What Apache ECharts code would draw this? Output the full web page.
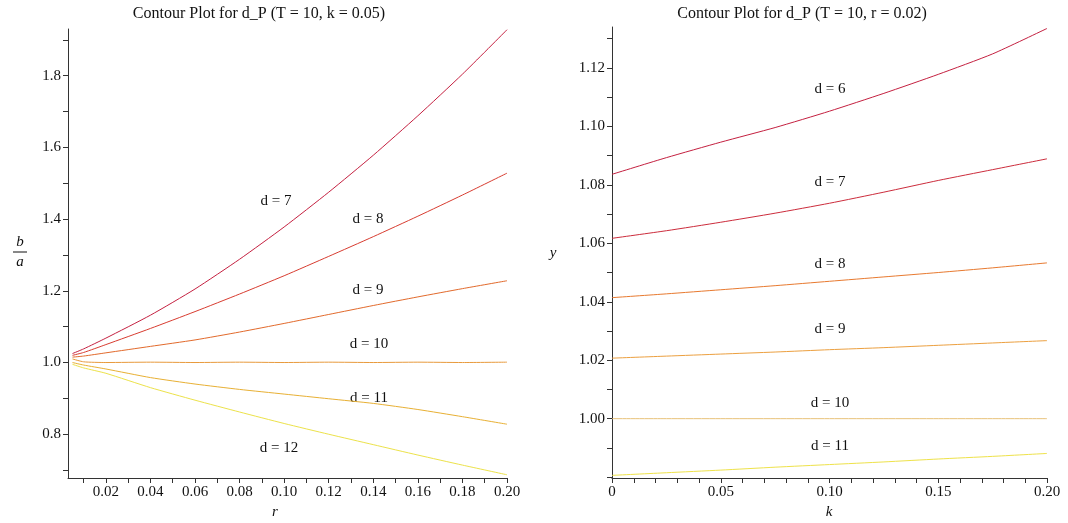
<!DOCTYPE html>
<html><head><meta charset="utf-8">
<script src="https://cdn.jsdelivr.net/npm/echarts@6/dist/echarts.min.js"></script>
<style>html,body{margin:0;padding:0;background:#fff}#c{width:1068px;height:523px}</style>
</head><body><div id="c"></div>
<script>
// ---------- data ----------
const leftTitle = 'Contour Plot for d_P (T = 10, k = 0.05)';
const rightTitle = 'Contour Plot for d_P (T = 10, r = 0.02)';

const rValues = [0.005, 0.01, 0.02, 0.04, 0.06, 0.08, 0.10, 0.12, 0.14, 0.16, 0.18, 0.20];
const leftD7  = [1.025, 1.038, 1.068, 1.132, 1.205, 1.288, 1.378, 1.475, 1.578, 1.688, 1.804, 1.928];
const leftD8  = [1.020, 1.028, 1.050, 1.095, 1.142, 1.191, 1.242, 1.296, 1.351, 1.408, 1.467, 1.528];
const leftD9  = [1.015, 1.018, 1.027, 1.045, 1.063, 1.085, 1.109, 1.134, 1.159, 1.183, 1.206, 1.228];
const leftD10 = [1.010, 1.002, 1.000, 1.001, 1.000, 1.001, 1.000, 1.001, 1.000, 1.001, 1.000, 1.001];
const leftD11 = [1.000, 0.993, 0.982, 0.958, 0.940, 0.925, 0.912, 0.899, 0.886, 0.869, 0.849, 0.828];
const leftD12 = [0.995, 0.985, 0.970, 0.930, 0.895, 0.862, 0.830, 0.800, 0.771, 0.742, 0.714, 0.687];

const kValues = [0, 0.025, 0.05, 0.075, 0.10, 0.125, 0.15, 0.175, 0.20];
const rightD6  = [1.0836, 1.0893, 1.0946, 1.0996, 1.1052, 1.1113, 1.1178, 1.1248, 1.1335];
const rightD7  = [1.0617, 1.0643, 1.0672, 1.0703, 1.0737, 1.0775, 1.0815, 1.0852, 1.0889];
const rightD8  = [1.0414, 1.0427, 1.0441, 1.0455, 1.0470, 1.0485, 1.0500, 1.0516, 1.0533];
const rightD9  = [1.0207, 1.0214, 1.0221, 1.0228, 1.0236, 1.0243, 1.0251, 1.0259, 1.0267];
const rightD10 = [1.0000, 1.0000, 1.0000, 1.0000, 1.0000, 1.0000, 1.0000, 1.0000, 1.0000];
const rightD11 = [0.9806, 0.9815, 0.9824, 0.9834, 0.9843, 0.9852, 0.9862, 0.9871, 0.9881];

// tick labels / tick positions
const leftXLabels  = [0.02, 0.04, 0.06, 0.08, 0.10, 0.12, 0.14, 0.16, 0.18, 0.20];
const leftXTicks   = [0.01, 0.02, 0.03, 0.04, 0.05, 0.06, 0.07, 0.08, 0.09, 0.10, 0.11, 0.12, 0.13, 0.14, 0.15, 0.16, 0.17, 0.18, 0.19, 0.20];
const leftYLabels  = [0.8, 1.0, 1.2, 1.4, 1.6, 1.8];
const leftYTicks   = [0.7, 0.8, 0.9, 1.0, 1.1, 1.2, 1.3, 1.4, 1.5, 1.6, 1.7, 1.8, 1.9];
const rightXLabels = [0, 0.05, 0.10, 0.15, 0.20];
const rightXTicks  = [0, 0.01, 0.02, 0.03, 0.04, 0.05, 0.06, 0.07, 0.08, 0.09, 0.10, 0.11, 0.12, 0.13, 0.14, 0.15, 0.16, 0.17, 0.18, 0.19, 0.20];
const rightYLabels = [1.00, 1.02, 1.04, 1.06, 1.08, 1.10, 1.12];
const rightYTicks  = [0.98, 0.99, 1.00, 1.01, 1.02, 1.03, 1.04, 1.05, 1.06, 1.07, 1.08, 1.09, 1.10, 1.11, 1.12, 1.13];

const leftNames  = ['d = 7', 'd = 8', 'd = 9', 'd = 10', 'd = 11', 'd = 12'];
const rightNames = ['d = 6', 'd = 7', 'd = 8', 'd = 9', 'd = 10', 'd = 11'];

// ---------- chart ----------
const FONT = '"Liberation Serif", "DejaVu Serif", serif';
const leftColors  = ['#c42040', '#d83c30', '#e26a2c', '#e89a3c', '#e8b034', '#ece24a'];
const rightColors = ['#c42040', '#cc2c3c', '#e87a30', '#eca040', '#e8c27a', '#eee24a'];
const leftSeriesVals  = [leftD7, leftD8, leftD9, leftD10, leftD11, leftD12];
const rightSeriesVals = [rightD6, rightD7, rightD8, rightD9, rightD10, rightD11];

function pairs(xs, ys) { return xs.map((x, i) => [x, ys[i]]); }

const axisLineStyle = { color: '#333', width: 1 };
function mkAxis(gridIndex, min, max, labels, ticks, fmt) {
  return {
    type: 'value', gridIndex, min, max,
    axisLine: { show: true, onZero: false, lineStyle: axisLineStyle },
    axisTick: { show: true, inside: false, length: 5, customValues: ticks, lineStyle: axisLineStyle },
    axisLabel: { show: true, customValues: labels, formatter: fmt, color: '#111', fontFamily: FONT, fontSize: 15, margin: 7 },
    splitLine: { show: false }
  };
}
const fmt2 = v => (Math.abs(v) < 1e-9 ? '0' : v.toFixed(2));
const fmt1 = v => v.toFixed(1);

const series = [];
leftSeriesVals.forEach((vals, i) => series.push({
  type: 'line', name: 'L' + leftNames[i], xAxisIndex: 0, yAxisIndex: 0,
  data: pairs(rValues, vals), showSymbol: false, smooth: 0.2,
  lineStyle: { color: leftColors[i], width: 1 }, silent: true
}));
rightSeriesVals.forEach((vals, i) => series.push({
  type: 'line', name: 'R' + rightNames[i], xAxisIndex: 1, yAxisIndex: 1,
  data: pairs(kValues, vals), showSymbol: false, smooth: 0.2,
  lineStyle: { color: rightColors[i], width: 1 }, silent: true
}));

const leftLabelPos  = [[276, 201], [368, 219], [368, 290], [369, 344], [369, 398], [279, 448]];
const rightLabelPos = [[830, 89], [830, 182], [830, 264], [830, 329], [830, 403], [830, 446]];

const txt = (x, y, s, extra) => Object.assign({
  type: 'text', x, y, silent: true,
  style: Object.assign({ text: s, fill: '#111', font: '15px ' + FONT, align: 'center', verticalAlign: 'middle' }, extra || {})
});

const graphics = [
  txt(259, 14, leftTitle, { font: '16px ' + FONT }),
  txt(802, 14, rightTitle, { font: '16px ' + FONT }),
  txt(20, 242, 'b', { font: 'italic 15px ' + FONT }),
  { type: 'line', silent: true, shape: { x1: 13, y1: 252, x2: 27, y2: 252 }, style: { stroke: '#111', lineWidth: 1 } },
  txt(20, 262, 'a', { font: 'italic 15px ' + FONT }),
  txt(553, 253, 'y', { font: 'italic 15px ' + FONT }),
  txt(275, 512, 'r', { font: 'italic 15px ' + FONT }),
  txt(829, 512, 'k', { font: 'italic 15px ' + FONT })
];
leftNames.forEach((n, i) => graphics.push(txt(leftLabelPos[i][0], leftLabelPos[i][1], n)));
rightNames.forEach((n, i) => graphics.push(txt(rightLabelPos[i][0], rightLabelPos[i][1], n)));

const option = {
  backgroundColor: '#fff',
  animation: false,
  grid: [
    { left: 68, right: 561, top: 29, bottom: 45, containLabel: false },
    { left: 612, right: 21, top: 27, bottom: 45, containLabel: false }
  ],
  xAxis: [
    mkAxis(0, 0.003, 0.2, leftXLabels, leftXTicks, fmt2),
    mkAxis(1, 0, 0.2, rightXLabels, rightXTicks, fmt2)
  ],
  yAxis: [
    mkAxis(0, 0.678, 1.93, leftYLabels, leftYTicks, fmt1),
    mkAxis(1, 0.9797, 1.134, rightYLabels, rightYTicks, fmt2)
  ],
  series,
  graphic: graphics
};

const chart = echarts.init(document.getElementById('c'), null, { renderer: 'canvas' });
chart.setOption(option);
</script>
</body></html>
